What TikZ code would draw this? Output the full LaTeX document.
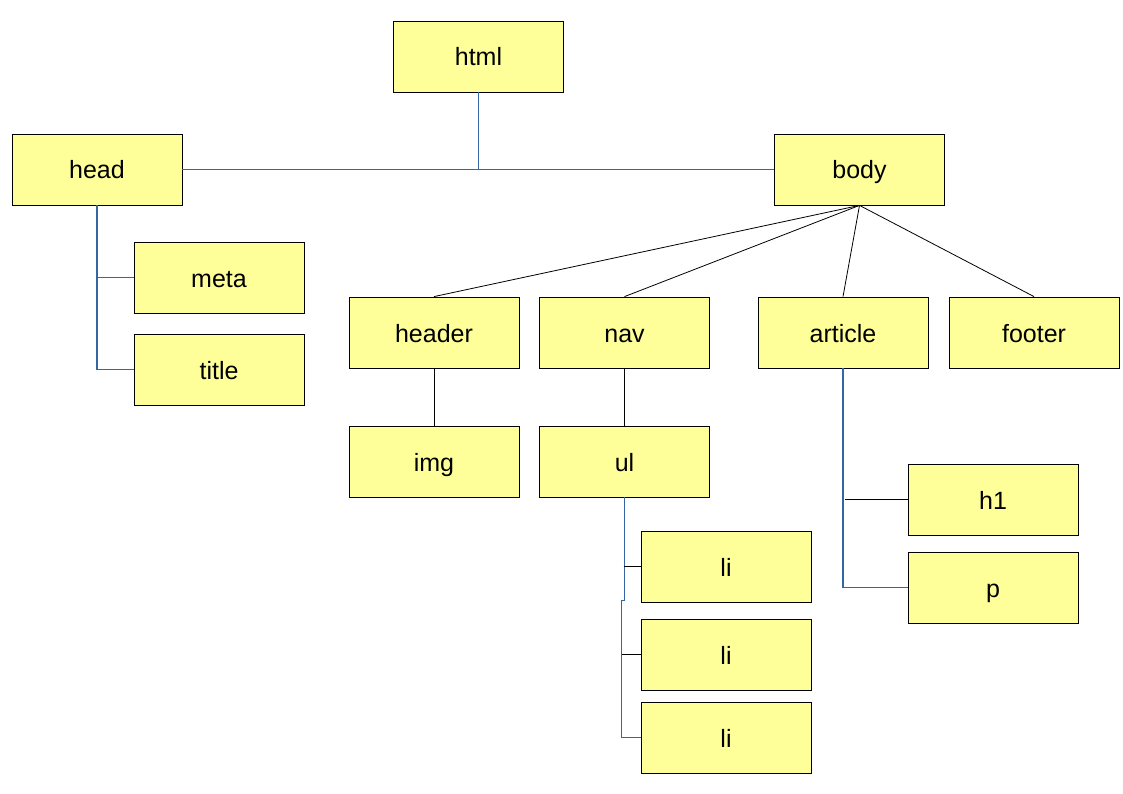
\documentclass[tikz,border=0pt]{standalone}
\usepackage{fontspec}
\setmainfont{Liberation Sans}
\definecolor{caja}{HTML}{FFFF99}
\definecolor{azul}{HTML}{3465A4}
\tikzset{
  box/.style={draw,thick,fill=caja,minimum width=170pt,minimum height=71pt,
    inner sep=0pt,text height=19pt,text depth=0pt,
    font=\fontsize{25}{30}\selectfont},
  rama/.style={draw=azul,line width=1.2pt},
  hoja/.style={draw=black,line width=0.8pt}
}
\begin{document}
\begin{tikzpicture}[x=1pt,y=-1pt]
    \useasboundingbox (0,0) rectangle (1123,794);

    % nodos del arbol
    \foreach \n/\t/\x/\y in {
        html/html/478.5/56.5,
        head/head/97/169.5,
        body/body/859.5/169.5,
        meta/meta/219/277.5,
        title/title/219/369.5,
        header/header/434/332.5,
        nav/nav/624.5/332.5,
        article/article/843/332.5,
        footer/footer/1034/332.5,
        img/img/434/461.5,
        ul/ul/624.5/461.5,
        li1/li/726/566.5,
        li2/li/726/654.5,
        li3/li/726/737.5,
        h1/h1/993/499.5,
        p/p/993/587.5}{
      \node[box] (\n) at (\x,\y) {\t};
    }

    % html -> head, body
    \coordinate (hb) at (html.south |- head.east);
    \draw[rama] (html.south) -- (hb);
    \draw[rama] (head.east) -- (body.west);

    % head -> meta, title
    \draw[rama] (head.south) |- (title.west);
    \draw[rama] (head.south |- meta.west) -- (meta.west);

    % body -> hijos
    \foreach \c in {header,nav,article,footer}{
      \draw[hoja] (body.south) -- (\c.north);
    }
    \draw[hoja] (header) -- (img);
    \draw[hoja] (nav) -- (ul);

    % ul -> li
    \coordinate (u1) at ([yshift=-103pt]ul.south);
    \coordinate (u2) at ([xshift=-3pt]u1);
    \draw[rama] (ul.south) -- (u1) -- (u2) |- (li3.west);
    \draw[hoja] ([xshift=-1pt]ul.south |- li1.west) -- (li1.west);
    \draw[hoja] (u2 |- li2.west) -- (li2.west);

    % article -> h1, p
    \draw[rama] (article.south) |- (p.west);
    \draw[hoja] ([xshift=2pt]article.south |- h1.west) -- (h1.west);
\end{tikzpicture}
\end{document}
